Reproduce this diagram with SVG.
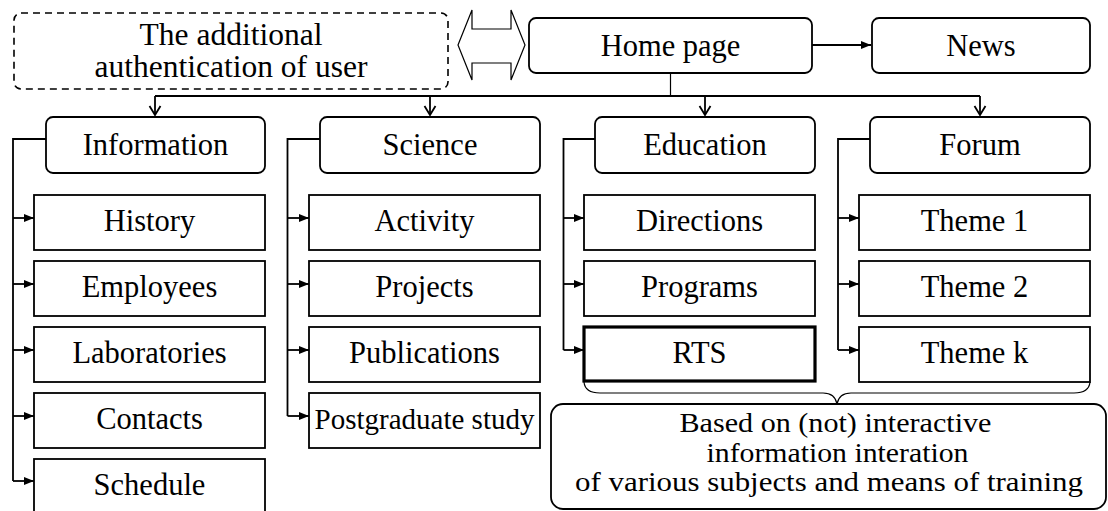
<svg xmlns="http://www.w3.org/2000/svg" width="1108" height="511" viewBox="0 0 1108 511" font-family="'Liberation Serif', 'Times New Roman', serif">
<defs>
<style>
.box{fill:#fff;stroke:#000;stroke-width:1.8}
.thick{fill:#fff;stroke:#000;stroke-width:3.2}
.dash{fill:none;stroke:#000;stroke-width:1.6;stroke-dasharray:7 5}
.ln{fill:none;stroke:#000;stroke-width:1.8}
.thin{fill:none;stroke:#000;stroke-width:1.2}
text{font-family:'Liberation Serif', 'Times New Roman', serif;font-size:30.5px;fill:#000;text-anchor:middle}
.note{font-size:26.5px}
</style>
<marker id="tri" markerUnits="userSpaceOnUse" viewBox="0 0 10 8" markerWidth="10" markerHeight="8" refX="10" refY="4" orient="auto">
<path d="M0,0 L10,4 L0,8 Z" fill="#000"/>
</marker>
<marker id="vee" markerUnits="userSpaceOnUse" viewBox="0 0 12 14" markerWidth="12" markerHeight="14" refX="10" refY="7" orient="auto" overflow="visible">
<path d="M1,1.5 L10,7 L1,12.5" fill="none" stroke="#000" stroke-width="1.8"/>
</marker>
</defs>

<g id="connectors">
<polygon class="thin" points="458,45 472,10 472,29 511,29 511,10 525,45 511,80 511,63 472,63 472,80"/>
<path class="ln" d="M812,45 H871" marker-end="url(#tri)"/>
<path class="thin" d="M670.5,73 V96"/>
<path class="ln" d="M155,96 H980"/>
<path class="ln" d="M155,96 V115" marker-end="url(#vee)"/>
<path class="ln" d="M430,96 V115" marker-end="url(#vee)"/>
<path class="ln" d="M705,96 V115" marker-end="url(#vee)"/>
<path class="ln" d="M980,96 V115" marker-end="url(#vee)"/>
<path class="ln" d="M46,139 H13 V481"/>
<path class="ln" d="M13,218 H34" marker-end="url(#tri)"/>
<path class="ln" d="M13,284 H34" marker-end="url(#tri)"/>
<path class="ln" d="M13,350 H34" marker-end="url(#tri)"/>
<path class="ln" d="M13,416 H34" marker-end="url(#tri)"/>
<path class="ln" d="M13,481 H34" marker-end="url(#tri)"/>
<path class="ln" d="M320,139 H287.5 V416"/>
<path class="ln" d="M287.5,218 H309" marker-end="url(#tri)"/>
<path class="ln" d="M287.5,284 H309" marker-end="url(#tri)"/>
<path class="ln" d="M287.5,350 H309" marker-end="url(#tri)"/>
<path class="ln" d="M287.5,416 H309" marker-end="url(#tri)"/>
<path class="ln" d="M595,139 H563.5 V350"/>
<path class="ln" d="M563.5,218 H584" marker-end="url(#tri)"/>
<path class="ln" d="M563.5,284 H584" marker-end="url(#tri)"/>
<path class="ln" d="M563.5,350 H584" marker-end="url(#tri)"/>
<path class="ln" d="M870,139 H838 V350"/>
<path class="ln" d="M838,218 H859" marker-end="url(#tri)"/>
<path class="ln" d="M838,284 H859" marker-end="url(#tri)"/>
<path class="ln" d="M838,350 H859" marker-end="url(#tri)"/>
<path class="thin" d="M584,382 Q585,393 600,393 H823 Q835,393 837,404 Q839,393 851,393 H1074 Q1089,393 1090,382"/>
</g>

<g id="auth">
<rect class="dash" x="14" y="13" width="434" height="76" rx="7"/>
<text x="231" y="45" style="font-size:31.5px">The additional</text>
<text x="231" y="77" style="font-size:31.5px">authentication of user</text>
</g>
<g id="home"><rect class="box" x="529" y="18" width="283" height="55" rx="7"/><text x="670.5" y="55.5">Home page</text></g>
<g id="news"><rect class="box" x="872" y="18" width="218" height="55" rx="7"/><text x="981" y="55.5">News</text></g>

<g id="information"><rect class="box" x="46" y="117" width="219" height="56" rx="7"/><text x="155.5" y="155">Information</text></g>
<g id="science"><rect class="box" x="320" y="117" width="220" height="56" rx="7"/><text x="430" y="155">Science</text></g>
<g id="education"><rect class="box" x="595" y="117" width="220" height="56" rx="7"/><text x="705" y="155">Education</text></g>
<g id="forum"><rect class="box" x="870" y="117" width="220" height="56" rx="7"/><text x="980" y="155">Forum</text></g>

<g id="history"><rect class="box" x="34" y="195" width="231" height="55"/><text x="149.5" y="231">History</text></g>
<g id="employees"><rect class="box" x="34" y="261" width="231" height="55"/><text x="149.5" y="297">Employees</text></g>
<g id="laboratories"><rect class="box" x="34" y="327" width="231" height="55"/><text x="149.5" y="363">Laboratories</text></g>
<g id="contacts"><rect class="box" x="34" y="393" width="231" height="55"/><text x="149.5" y="429">Contacts</text></g>
<g id="schedule"><rect class="box" x="34" y="459" width="231" height="70"/><text x="149.5" y="495">Schedule</text></g>

<g id="activity"><rect class="box" x="309" y="195" width="231" height="55"/><text x="424.5" y="231">Activity</text></g>
<g id="projects"><rect class="box" x="309" y="261" width="231" height="55"/><text x="424.5" y="297">Projects</text></g>
<g id="publications"><rect class="box" x="309" y="327" width="231" height="55"/><text x="424.5" y="363">Publications</text></g>
<g id="postgraduate"><rect class="box" x="309" y="393" width="231" height="55"/><text x="424.5" y="429" style="font-size:29px">Postgraduate study</text></g>

<g id="directions"><rect class="box" x="584" y="195" width="231" height="55"/><text x="699.5" y="231">Directions</text></g>
<g id="programs"><rect class="box" x="584" y="261" width="231" height="55"/><text x="699.5" y="297">Programs</text></g>
<g id="rts"><rect class="thick" x="584" y="327" width="231" height="54"/><text x="699.5" y="363">RTS</text></g>

<g id="theme1"><rect class="box" x="859" y="195" width="231" height="55"/><text x="974.5" y="231">Theme 1</text></g>
<g id="theme2"><rect class="box" x="859" y="261" width="231" height="55"/><text x="974.5" y="297">Theme 2</text></g>
<g id="themek"><rect class="box" x="859" y="327" width="231" height="55"/><text x="974.5" y="363">Theme k</text></g>

<g id="note">
<rect class="box" x="551" y="404" width="555" height="105" rx="12"/>
<text class="note" x="835.5" y="432" textLength="312" lengthAdjust="spacingAndGlyphs">Based on (not) interactive</text>
<text class="note" x="837.5" y="461.5" textLength="262" lengthAdjust="spacingAndGlyphs">information interation</text>
<text class="note" x="829" y="491" textLength="508" lengthAdjust="spacingAndGlyphs">of various subjects and means of training</text>
</g>
</svg>
